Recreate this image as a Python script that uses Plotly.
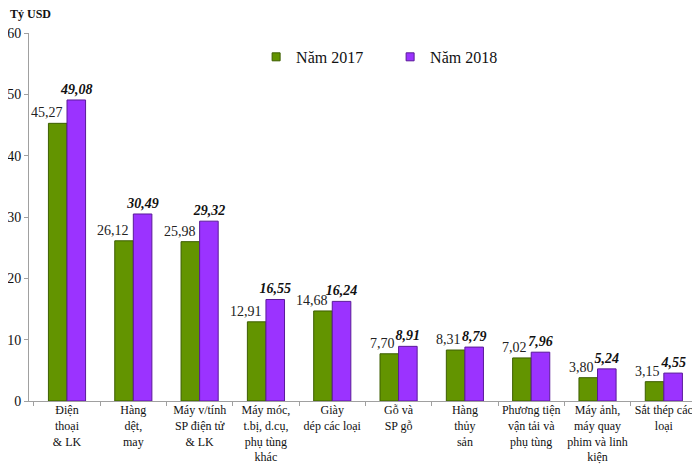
import plotly.graph_objects as go

categories = [
    "Điện<br>thoại<br>& LK",
    "Hàng<br>dệt,<br>may",
    "Máy v/tính<br>SP điện tử<br>& LK",
    "Máy móc,<br>t.bị, d.cụ,<br>phụ tùng<br>khác",
    "Giày<br>dép các loại",
    "Gỗ và<br>SP gỗ",
    "Hàng<br>thủy<br>sản",
    "Phương tiện<br>vận tải và<br>phụ tùng",
    "Máy ảnh,<br>máy quay<br>phim và linh<br>kiện",
    "Sắt thép các<br>loại",
]
values_2017 = [45.27, 26.12, 25.98, 12.91, 14.68, 7.70, 8.31, 7.02, 3.80, 3.15]
values_2018 = [49.08, 30.49, 29.32, 16.55, 16.24, 8.91, 8.79, 7.96, 5.24, 4.55]
y_ticks = [0, 10, 20, 30, 40, 50, 60]

GREEN = "#639400"
PURPLE = "#9b33ff"


def fmt(v):
    return f"{v:.2f}".replace(".", ",")


serif = "'Liberation Serif', 'Times New Roman', serif"

fig = go.Figure()
fig.add_trace(go.Bar(
    x=categories, y=values_2017, name="Năm 2017", showlegend=False,
    marker=dict(color=GREEN, line=dict(color="#3d5e00", width=1)),
))
fig.add_trace(go.Bar(
    x=categories, y=values_2018, name="Năm 2018", showlegend=False,
    marker=dict(color=PURPLE, line=dict(color="#5a1a99", width=1)),
    text=[f"<b><i>{fmt(v)}</i></b>" for v in values_2018], textposition="outside",
    constraintext="none",
    textfont=dict(family=serif, size=14, color="#111111"),
    cliponaxis=False,
))
# legend swatches (small squares as in the original)
for name, col, edge in [("Năm 2017", GREEN, "#3d5e00"), ("Năm 2018", PURPLE, "#5a1a99")]:
    fig.add_trace(go.Scatter(
        x=[None], y=[None], mode="markers", name=name,
        marker=dict(symbol="square", size=8, color=col, line=dict(color=edge, width=1)),
    ))

# 2017 labels sit just left of the purple bar
for c, v in zip(categories, values_2017):
    fig.add_annotation(x=c, y=v, xref="x", yref="y", text=fmt(v), showarrow=False,
                       xanchor="right", yanchor="bottom", xshift=-2, yshift=1,
                       font=dict(family=serif, size=14, color="#222222"))

fig.add_annotation(text="<b>Tỷ USD</b>", x=0, y=1, xref="paper", yref="paper",
                   xshift=-21, yshift=19, xanchor="left", yanchor="middle",
                   showarrow=False, font=dict(family=serif, size=12))

fig.update_layout(
    width=692, height=459,
    plot_bgcolor="white", paper_bgcolor="white",
    barmode="group", bargap=0.44, bargroupgap=0.0,
    font=dict(family=serif, size=13, color="#111111"),
    margin=dict(t=25, b=66, l=21, r=3, autoexpand=False),
    showlegend=True,
    legend=dict(orientation="h", x=0.34, y=0.935, xanchor="left", yanchor="middle",
                font=dict(family=serif, size=16), entrywidth=89,
                bgcolor="rgba(0,0,0,0)"),
)
fig.update_yaxes(range=[0, 60], tickvals=y_ticks, showgrid=False, zeroline=False,
                 showline=True, linecolor="#a0a0a0", ticks="outside", ticklen=4,
                 tickcolor="#a0a0a0", tickfont=dict(family=serif, size=14),
                 automargin=False)
fig.update_xaxes(showgrid=False, showline=True, linecolor="#a0a0a0", ticks="outside",
                 tickson="boundaries", ticklen=4, tickcolor="#a0a0a0",
                 tickfont=dict(family=serif, size=12), tickangle=0, automargin=False,
                 ticklabelstandoff=-2)

fig.write_html("out.html")
